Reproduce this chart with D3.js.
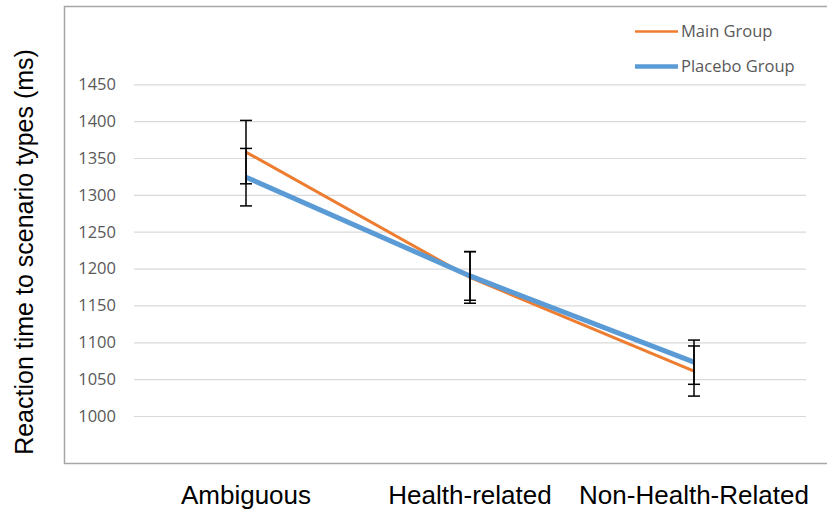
<!DOCTYPE html>
<html>
<head>
<meta charset="utf-8">
<script src="https://cdn.jsdelivr.net/npm/d3@7"></script>
<style>
  html, body { margin: 0; padding: 0; background: #fff; }
  svg { display: block; }
</style>
</head>
<body>
<svg id="chart" width="827" height="514"></svg>
<script>
var categories = ["Ambiguous", "Health-related", "Non-Health-Related"];
var mainValues = [1358, 1188, 1061];
var mainErrors = [43, 35, 34];
var placeboValues = [1324, 1190, 1073];
var placeboErrors = [39, 33, 30];
var yTicks = [1000, 1050, 1100, 1150, 1200, 1250, 1300, 1350, 1400, 1450];
var seriesNames = ["Main Group", "Placebo Group"];

(function() {
	var svg = d3.select("#chart");

	var tickFont = "'Open Sans', sans-serif";
	var bigFont = "'Liberation Sans', Arial, sans-serif";

	var x = d3.scalePoint().domain(categories).range([134, 806]).padding(0.5);
	var y = d3.scaleLinear().domain([1000, 1450]).range([416, 84.3]);

	// chart frame (right edge runs off the picture)
	svg.append("rect")
		.attr("x", 64.5).attr("y", 6.5)
		.attr("width", 800).attr("height", 457)
		.attr("fill", "none")
		.attr("stroke", "#a6a6a6")
		.attr("stroke-width", 1.5);

	// gridlines + tick labels
	var yAxis = d3.axisLeft(y)
		.tickValues(yTicks)
		.tickFormat(d3.format("d"))
		.tickSize(-(806 - 134))
		.tickPadding(18);

	var gy = svg.append("g")
		.attr("transform", "translate(134,0)")
		.call(yAxis);
	gy.select(".domain").remove();
	gy.selectAll(".tick line").attr("stroke", "#d9d9d9").attr("stroke-width", 1.2);
	gy.selectAll(".tick text")
		.attr("fill", "#595959")
		.style("font-family", tickFont)
		.style("font-size", "16.5px");

	var series = [
		{ name: seriesNames[0], values: mainValues, errors: mainErrors, color: "#ED7D31", width: 3 },
		{ name: seriesNames[1], values: placeboValues, errors: placeboErrors, color: "#5B9BD5", width: 5 }
	];

	var line = d3.line()
		.x(function(d, i) { return x(categories[i]); })
		.y(function(d) { return y(d); });

	series.forEach(function(s) {
		svg.append("path")
			.datum(s.values)
			.attr("d", line)
			.attr("fill", "none")
			.attr("stroke", s.color)
			.attr("stroke-width", s.width);
	});

	// error bars on top
	series.forEach(function(s) {
		var g = svg.append("g").attr("stroke", "#000").attr("stroke-width", 1.5);
		s.values.forEach(function(v, i) {
			var cx = x(categories[i]);
			var top = y(v + s.errors[i]), bot = y(v - s.errors[i]);
			g.append("line").attr("x1", cx).attr("x2", cx).attr("y1", top).attr("y2", bot);
			g.append("line").attr("x1", cx - 6).attr("x2", cx + 6).attr("y1", top).attr("y2", top);
			g.append("line").attr("x1", cx - 6).attr("x2", cx + 6).attr("y1", bot).attr("y2", bot);
		});
	});

	// legend
	var legend = svg.append("g").attr("transform", "translate(635,0)");
	series.forEach(function(s, i) {
		var ly = 31.5 + i * 35;
		legend.append("line")
			.attr("x1", 0).attr("x2", 43)
			.attr("y1", ly).attr("y2", ly)
			.attr("stroke", s.color)
			.attr("stroke-width", s.width - 0.5);
		legend.append("text")
			.attr("x", 46).attr("y", ly)
			.attr("dy", "0.35em")
			.attr("fill", "#595959")
			.style("font-family", tickFont)
			.style("font-size", "16.5px")
			.text(s.name);
	});

	// category labels below the frame
	svg.append("g").selectAll("text")
		.data(categories)
		.join("text")
		.attr("x", function(d) { return x(d); })
		.attr("y", 504)
		.attr("text-anchor", "middle")
		.attr("fill", "#000")
		.style("font-family", bigFont)
		.style("font-size", "26px")
		.text(function(d) { return d; });

	// y title
	svg.append("text")
		.attr("transform", "translate(33,252) rotate(-90)")
		.attr("text-anchor", "middle")
		.attr("fill", "#000")
		.style("font-family", bigFont)
		.style("font-size", "25px")
		.text("Reaction time to scenario types (ms)");
})();
</script>
</body>
</html>
